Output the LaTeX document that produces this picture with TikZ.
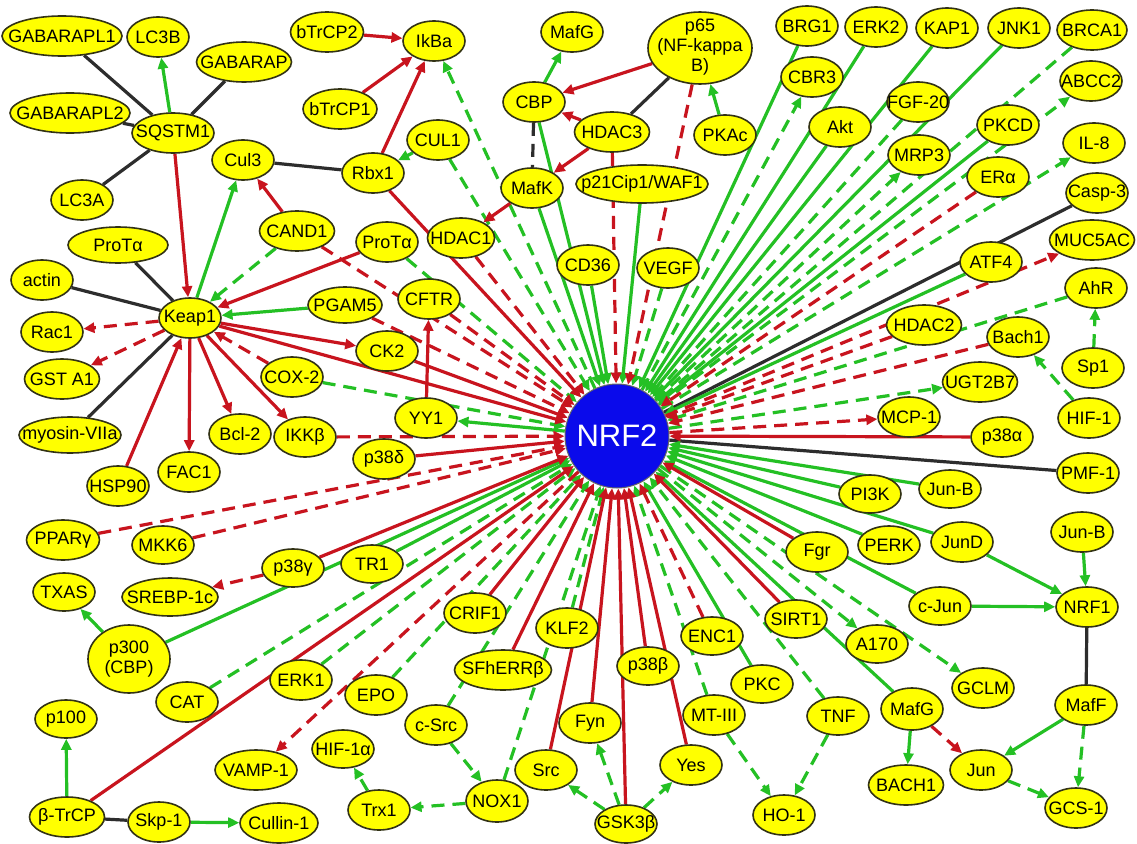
\documentclass[tikz,border=0pt]{standalone}
\usepackage{fontspec}
\setmainfont{Liberation Sans}
\usetikzlibrary{shapes,arrows.meta,backgrounds}
\definecolor{actgreen}{RGB}{36,192,36}
\definecolor{inhred}{RGB}{200,20,30}
\definecolor{bindgray}{RGB}{45,45,45}
\definecolor{geneyellow}{RGB}{255,255,0}
\definecolor{geneedge}{RGB}{50,50,20}
\definecolor{nrfblue}{RGB}{10,10,235}

\begin{document}
\begin{tikzpicture}[
    x=1pt, y=-1pt,
    gene/.style={ellipse, draw=geneedge, line width=1.6pt, fill=geneyellow, inner xsep=-14pt, inner ysep=0pt, minimum width=62pt, minimum height=40pt, font=\fontsize{18}{20}\selectfont},
    act/.style={actgreen, line width=3.2pt, -{Triangle[length=11pt,width=10pt]}},
    actd/.style={act, dash pattern=on 13pt off 8pt},
    inh/.style={inhred, line width=3.2pt, -{Triangle[length=11pt,width=10pt]}},
    inhd/.style={inh, dash pattern=on 13pt off 8pt},
    bind/.style={bindgray, line width=3.2pt}
]
    \useasboundingbox (0,0) rectangle (1137,843);

    % hub
    \node[circle, draw=black!60, line width=1pt, fill=nrfblue, text=white, minimum size=104pt, font=\fontsize{31}{34}\selectfont] (nrf) at (617,436) {NRF2};

    % left side
    \node[gene, minimum width=120pt] (gabl1) at (62,36) {GABARAPL1};
    \node[gene] (lc3b) at (158,37) {LC3B};
    \node[gene, minimum width=95pt] (gabarap) at (244,62) {GABARAP};
    \node[gene, minimum width=120pt] (gabl2) at (70,113) {GABARAPL2};
    \node[gene, minimum width=82pt] (sqstm) at (173,133) {SQSTM1};
    \node[gene] (lc3a) at (82,200) {LC3A};
    \node[gene] (cul3) at (243,160) {Cul3};
    \node[gene, minimum width=100pt, minimum height=36pt] (protl) at (118,245) {ProTα};
    \node[gene] (actin) at (42,280) {actin};
    \node[gene] (keap) at (190,318) {Keap1};
    \node[gene] (rac) at (52,332) {Rac1};
    \node[gene, minimum width=75pt] (gsta) at (62,379) {GST A1};
    \node[gene, minimum width=102pt, minimum height=36pt] (myo) at (70,435) {myosin-VIIa};
    \node[gene] (hsp) at (118,486) {HSP90};
    \node[gene] (fac) at (189,472) {FAC1};
    \node[gene] (bcl) at (240,434) {Bcl-2};
    \node[gene] (ikkb) at (305,437) {IKKβ};
    \node[gene] (cox) at (292,377) {COX-2};
    \node[gene] (ck) at (387,351) {CK2};
    \node[gene, minimum width=74pt, minimum height=36pt] (pgam) at (345,305) {PGAM5};
    \node[gene] (cftr) at (429,299) {CFTR};
    \node[gene] (yy) at (426,418) {YY1};
    \node[gene] (p38d) at (384,459) {p38δ};
    \node[gene] (protm) at (387,242) {ProTα};
    \node[gene, minimum width=75pt] (cand) at (297,231) {CAND1};
    \node[gene, minimum width=67pt] (hdaca) at (461,238) {HDAC1};
    \node[gene] (rbx) at (373,173) {Rbx1};
    \node[gene] (cula) at (438,140) {CUL1};
    \node[gene, minimum width=73pt] (btrb) at (327,32) {bTrCP2};
    \node[gene, minimum width=74pt] (btra) at (340,109) {bTrCP1};
    \node[gene] (ikba) at (434,41) {IkBa};

    % top
    \node[gene] (cbp) at (534,102) {CBP};
    \node[gene] (mafk) at (532,188) {MafK};
    \node[gene] (mafgt) at (572,32) {MafG};
    \node[gene, minimum width=104pt, minimum height=72pt, inner ysep=-5pt] (p65) at (700,48) {\begin{tabular}{@{}c@{}}p65\\(NF-kappa\\B)\end{tabular}};
    \node[gene, minimum width=75pt] (hdacc) at (612,132) {HDAC3};
    \node[gene] (pkac) at (725,135) {PKAc};
    \node[gene, minimum height=38pt] (p21) at (642,184) {p21Cip1/WAF1};
    \node[gene] (cd) at (588,265) {CD36};
    \node[gene] (vegf) at (668,268) {VEGF};
    \node[gene] (brg) at (807,26) {BRG1};
    \node[gene] (cbr) at (812,77) {CBR3};
    \node[gene] (akt) at (840,127) {Akt};
    \node[gene] (erkb) at (876,27) {ERK2};
    \node[gene] (kap) at (947,28) {KAP1};
    \node[gene] (jnk) at (1019,28) {JNK1};
    \node[gene, minimum width=70pt] (brca) at (1092,30) {BRCA1};
    \node[gene] (abcc) at (1091,81) {ABCC2};
    \node[gene] (fgf) at (918,102) {FGF-20};
    \node[gene] (pkcd) at (1008,125) {PKCD};
    \node[gene] (mrp) at (919,155) {MRP3};
    \node[gene] (il) at (1094,143) {IL-8};
    \node[gene] (era) at (998,177) {ERα};
    \node[gene] (casp) at (1097,193) {Casp-3};

    % right side
    \node[gene, minimum width=85pt] (muc) at (1092,240) {MUC5AC};
    \node[gene] (atf) at (991,262) {ATF4};
    \node[gene] (ahr) at (1096,288) {AhR};
    \node[gene, minimum width=75pt] (hdacb) at (924,325) {HDAC2};
    \node[gene] (bach) at (1018,337) {Bach1};
    \node[gene] (sp) at (1093,368) {Sp1};
    \node[gene, minimum width=75pt] (ugt) at (980,382) {UGT2B7};
    \node[gene] (hif) at (1089,418) {HIF-1};
    \node[gene] (mcp) at (909,417) {MCP-1};
    \node[gene] (p38a) at (1002,437) {p38α};
    \node[gene] (pmf) at (1088,473) {PMF-1};
    \node[gene, minimum height=38pt] (pik) at (870,494) {PI3K};
    \node[gene, minimum height=38pt] (junba) at (950,489) {Jun-B};
    \node[gene, minimum height=38pt] (perk) at (889,545) {PERK};
    \node[gene] (jund) at (962,542) {JunD};
    \node[gene] (junbb) at (1082,532) {Jun-B};
    \node[gene] (nrfa) at (1087,607) {NRF1};
    \node[gene, minimum height=38pt] (cjun) at (940,606) {c-Jun};
    \node[gene, minimum height=38pt] (a170) at (877,644) {A170};
    \node[gene] (gclm) at (983,688) {GCLM};
    \node[gene, minimum height=42pt] (mafgb) at (912,709) {MafG};
    \node[gene] (maff) at (1086,705) {MafF};
    \node[gene, minimum width=75pt] (bacha) at (906,785) {BACH1};
    \node[gene] (jun) at (981,770) {Jun};
    \node[gene] (gcs) at (1076,808) {GCS-1};

    % bottom
    \node[gene] (fgr) at (817,552) {Fgr};
    \node[gene, minimum height=38pt] (sirt) at (796,619) {SIRT1};
    \node[gene, minimum height=38pt] (enc) at (712,636) {ENC1};
    \node[gene, minimum height=38pt] (pkc) at (762,684) {PKC};
    \node[gene, minimum height=38pt] (p38b) at (648,666) {p38β};
    \node[gene] (mt) at (714,715) {MT-III};
    \node[gene, minimum height=38pt] (tnf) at (838,716) {TNF};
    \node[gene] (fyn) at (590,723) {Fyn};
    \node[gene] (yes) at (691,765) {Yes};
    \node[gene] (ho) at (784,815) {HO-1};
    \node[gene, minimum height=38pt] (gsk) at (626,824) {GSK3β};
    \node[gene] (klf) at (567,628) {KLF2};
    \node[gene] (src) at (546,770) {Src};
    \node[gene] (crif) at (475,613) {CRIF1};
    \node[gene, minimum width=97pt] (sfh) at (503,670) {SFhERRβ};
    \node[gene] (epo) at (376,695) {EPO};
    \node[gene] (csrc) at (436,725) {c-Src};
    \node[gene, minimum height=38pt] (hifa) at (343,749) {HIF-1α};
    \node[gene] (trx) at (379,810) {Trx1};
    \node[gene, minimum height=42pt] (nox) at (497,801) {NOX1};
    \node[gene] (erka) at (301,680) {ERK1};
    \node[gene, minimum height=38pt] (tr) at (372,564) {TR1};
    \node[gene, minimum height=38pt] (p38g) at (293,568) {p38γ};
    \node[gene, minimum height=38pt] (mkk) at (163,545) {MKK6};
    \node[gene, minimum width=73pt] (ppar) at (63,540) {PPARγ};
    \node[gene, minimum width=96pt, minimum height=38pt] (srebp) at (170,597) {SREBP-1c};
    \node[gene, minimum height=38pt] (txas) at (64,592) {TXAS};
    \node[gene, minimum width=82pt, minimum height=68pt] (p300) at (129,659) {\begin{tabular}{@{}c@{}}p300\\(CBP)\end{tabular}};
    \node[gene] (cat) at (187,702) {CAT};
    \node[gene, minimum height=38pt] (p100) at (66,719) {p100};
    \node[gene, minimum width=82pt] (vamp) at (256,770) {VAMP-1};
    \node[gene, minimum width=75pt] (btrcp) at (67,817) {β-TrCP};
    \node[gene] (skp) at (159,822) {Skp-1};
    \node[gene, minimum width=78pt] (cullin) at (279,823) {Cullin-1};

    \begin{scope}[on background layer]
    \fill[white] (0,0) rectangle (1137,843);

    % binding
    \draw[bind] (sqstm) -- (gabl1);
    \draw[bind] (sqstm) -- (gabarap);
    \draw[bind] (sqstm) -- (gabl2);
    \draw[bind] (sqstm) -- (lc3a);
    \draw[bind] (cul3) -- (rbx);
    \draw[bind] (protl) -- (keap);
    \draw[bind] (actin) -- (keap);
    \draw[bind] (keap) -- (myo);
    \draw[bind, dash pattern=on 13pt off 8pt] (cbp) -- (mafk);
    \draw[bind] (p65) -- (hdacc);
    \draw[bind] (casp) -- (nrf);
    \draw[bind] (pmf) -- (nrf);
    \draw[bind] (btrcp) -- (skp);
    \draw[bind] (nrfa) -- (maff);

    % activation
    \draw[act] (sqstm) -- (lc3b);
    \draw[act] (keap) -- (cul3);
    \draw[act] (pgam) -- (keap);
    \draw[act] (cula) -- (rbx);
    \draw[act] (pkac) -- (p65);
    \draw[act] (cbp) -- (mafgt);
    \draw[act] (nrf) -- (yy);
    \draw[act] (cbp) -- (nrf);
    \draw[act] (mafk) -- (nrf);
    \draw[act] (p21) -- (nrf);
    \draw[act] (cd) -- (nrf);
    \draw[act] (brg) -- (nrf);
    \draw[act] (erkb) -- (nrf);
    \draw[act] (akt) -- (nrf);
    \draw[act] (kap) -- (nrf);
    \draw[act] (jnk) -- (nrf);
    \draw[act] (pkcd) -- (nrf);
    \draw[act] (atf) -- (nrf);
    \draw[act] (pik) -- (nrf);
    \draw[act] (junba) -- (nrf);
    \draw[act] (perk) -- (nrf);
    \draw[act] (jund) -- (nrf);
    \draw[act] (cjun) -- (nrf);
    \draw[act] (mafgb) -- (nrf);
    \draw[act] (pkc) -- (nrf);
    \draw[act] (tr) -- (nrf);
    \draw[act] (p300) -- (nrf);
    \draw[act] (jund) -- (nrfa);
    \draw[act] (junbb) -- (nrfa);
    \draw[act] (cjun) -- (nrfa);
    \draw[act] (maff) -- (jun);
    \draw[act] (mafgb) -- (bacha);
    \draw[act] (btrcp) -- (p100);
    \draw[act] (skp) -- (cullin);
    \draw[act] (p300) -- (txas);

    \draw[actd] (cand) -- (keap);
    \draw[actd] (protm) -- (nrf);
    \draw[actd] (cox) -- (nrf);
    \draw[actd] (nrf) -- (ikba);
    \draw[actd] (cula) -- (nrf);
    \draw[actd] (vegf) -- (nrf);
    \draw[actd] (nrf) -- (cbr);
    \draw[actd] (brca) -- (nrf);
    \draw[actd] (nrf) -- (abcc);
    \draw[actd] (fgf) -- (nrf);
    \draw[actd] (nrf) -- (mrp);
    \draw[actd] (nrf) -- (il);
    \draw[actd] (sp) -- (ahr);
    \draw[actd] (ahr) -- (nrf);
    \draw[actd] (hif) -- (bach);
    \draw[actd] (nrf) -- (ugt);
    \draw[actd] (nrf) -- (gclm);
    \draw[actd] (nrf) -- (a170);
    \draw[actd] (tnf) -- (nrf);
    \draw[actd] (mt) -- (nrf);
    \draw[actd] (tnf) -- (ho);
    \draw[actd] (mt) -- (ho);
    \draw[actd] (maff) -- (gcs);
    \draw[actd] (jun) -- (gcs);
    \draw[actd] (gsk) -- (fyn);
    \draw[actd] (gsk) -- (yes);
    \draw[actd] (gsk) -- (src);
    \draw[actd] (klf) -- (nrf);
    \draw[actd] (nox) -- (nrf);
    \draw[actd] (nox) -- (trx);
    \draw[actd] (csrc) -- (nox);
    \draw[actd] (csrc) -- (nrf);
    \draw[actd] (trx) -- (hifa);
    \draw[actd] (epo) -- (nrf);
    \draw[actd] (erka) -- (nrf);
    \draw[actd] (cat) -- (nrf);

    % inhibition
    \draw[inh] (sqstm) -- (keap);
    \draw[inh] (cand) -- (cul3);
    \draw[inh] (hsp) -- (keap);
    \draw[inh] (keap) -- (fac);
    \draw[inh] (keap) -- (bcl);
    \draw[inh] (keap) -- (ikkb);
    \draw[inh] (protm) -- (keap);
    \draw[inh] (keap) -- (nrf);
    \draw[inh] (keap) -- (ck);
    \draw[inh] (ck) -- (nrf);
    \draw[inh] (yy) -- (cftr);
    \draw[inh] (rbx) -- (ikba);
    \draw[inh] (btrb) -- (ikba);
    \draw[inh] (btra) -- (ikba);
    \draw[inh] (rbx) -- (nrf);
    \draw[inh] (hdacc) -- (cbp);
    \draw[inh] (hdacc) -- (mafk);
    \draw[inh] (p65) -- (cbp);
    \draw[inh] (mafk) -- (hdaca);
    \draw[inh] (p38a) -- (nrf);
    \draw[inh] (fgr) -- (nrf);
    \draw[inh] (sirt) -- (nrf);
    \draw[inh] (p38b) -- (nrf);
    \draw[inh] (yes) -- (nrf);
    \draw[inh] (gsk) -- (nrf);
    \draw[inh] (fyn) -- (nrf);
    \draw[inh] (src) -- (nrf);
    \draw[inh] (sfh) -- (nrf);
    \draw[inh] (crif) -- (nrf);
    \draw[inh] (btrcp) -- (nrf);
    \draw[inh] (p38g) -- (nrf);
    \draw[inh] (p38d) -- (nrf);

    \draw[inhd] (keap) -- (rac);
    \draw[inhd] (keap) -- (gsta);
    \draw[inhd] (cox) -- (keap);
    \draw[inhd] (cand) -- (nrf);
    \draw[inhd] (pgam) -- (nrf);
    \draw[inhd] (cftr) -- (nrf);
    \draw[inhd] (ikkb) -- (nrf);
    \draw[inhd] (hdaca) -- (nrf);
    \draw[inhd] (p65) -- (nrf);
    \draw[inhd] (hdacc) -- (nrf);
    \draw[inhd] (era) -- (nrf);
    \draw[inhd] (nrf) -- (muc);
    \draw[inhd] (hdacb) -- (nrf);
    \draw[inhd] (bach) -- (nrf);
    \draw[inhd] (nrf) -- (mcp);
    \draw[inhd] (enc) -- (nrf);
    \draw[inhd] (mafgb) -- (jun);
    \draw[inhd] (nrf) -- (vamp);
    \draw[inhd] (p38g) -- (srebp);
    \draw[inhd] (mkk) -- (nrf);
    \draw[inhd] (ppar) -- (nrf);
    \end{scope}
\end{tikzpicture}
\end{document}
